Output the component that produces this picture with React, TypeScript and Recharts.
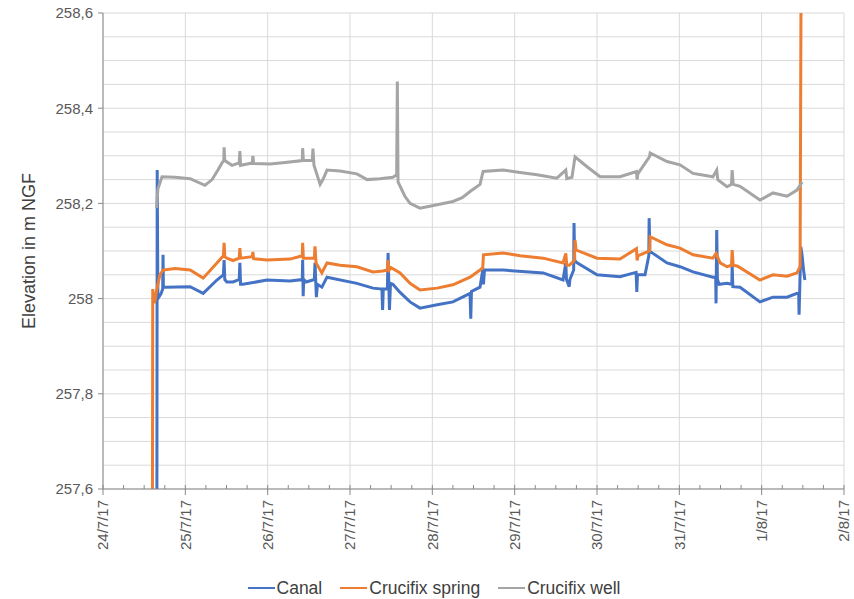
import React from 'react';
import {
	LineChart,
	Line,
	XAxis,
	YAxis,
	CartesianGrid,
	Legend,
} from 'recharts';

// x values are hours since 24/7/17 00:00
const dateLabels = [
	'24/7/17',
	'25/7/17',
	'26/7/17',
	'27/7/17',
	'28/7/17',
	'29/7/17',
	'30/7/17',
	'31/7/17',
	'1/8/17',
	'2/8/17',
];
const xTicks = Array.from({ length: 37 }, (_, i) => i * 6);
const dayValues = dateLabels.map((_, i) => i * 24);

const yTicks = [257.6, 257.8, 258, 258.2, 258.4, 258.6];
const yGrid = [
	257.6, 257.65, 257.7, 257.75, 257.8, 257.85, 257.9, 257.95, 258, 258.05,
	258.1, 258.15, 258.2, 258.25, 258.3, 258.35, 258.4, 258.45, 258.5, 258.55,
	258.6,
];

const canalHours = [
	15.7, 15.8, 16.0, 16.9, 17.4, 17.5, 17.6, 18.1, 25.4, 29.2, 33.2, 35.1, 35.3,
	35.5, 36.1, 37.9, 39.7, 39.9, 40.1, 40.8, 47.8, 54.5, 58.1, 58.2, 58.35, 58.5,
	59.2, 61.6, 61.8, 62.2, 62.5, 63.8, 65.3, 74.0, 78.7, 81.3, 81.5, 81.7, 82.9,
	83.1, 83.5, 83.8, 84.5, 86.6, 89.5, 92.4, 97.4, 102.0, 107.0, 107.2, 107.4,
	109.9, 110.7, 110.9, 111.2, 116.6, 128.3, 134.1, 134.9, 135.1, 135.9, 136.1,
	137.2, 137.3, 137.5, 138.2, 144.0, 150.7, 155.4, 155.6, 155.8, 158.0, 159.1,
	159.2, 159.4, 160.1, 164.4, 168.2, 172.0, 177.8, 178.6, 178.7, 178.9, 179.1,
	179.6, 181.9, 183.3, 183.4, 183.6, 185.7, 191.5, 195.3, 199.4, 202.3, 202.8,
	202.9, 203.1, 203.4, 203.8, 204.2, 204.6,
];
const canalLevel = [
	257.5, 258.27, 258.0, 258.01, 258.02, 258.092, 258.024, 258.024, 258.025,
	258.011, 258.039, 258.05, 258.081, 258.04, 258.035, 258.035, 258.04, 258.075,
	258.03, 258.03, 258.039, 258.037, 258.04, 258.081, 258.005, 258.04, 258.035,
	258.04, 258.075, 258.003, 258.03, 258.024, 258.045, 258.032, 258.022, 258.02,
	257.976, 258.02, 258.02, 258.096, 257.976, 258.032, 258.03, 258.013, 257.993,
	257.98, 257.987, 257.993, 258.011, 257.958, 258.015, 258.024, 258.06, 258.03,
	258.06, 258.06, 258.054, 258.039, 258.075, 258.04, 258.025, 258.04, 258.06,
	258.159, 258.08, 258.075, 258.05, 258.046, 258.055, 258.014, 258.05, 258.05,
	258.09, 258.169, 258.1, 258.096, 258.075, 258.067, 258.056, 258.045, 258.045,
	257.99, 258.144, 258.04, 258.03, 258.032, 258.03, 258.07, 258.025, 258.024,
	257.993, 258.003, 258.003, 258.011, 258.01, 257.966, 258.02, 258.109, 258.09,
	258.06, 258.039,
];

const springHours = [
	14.4, 14.5, 15.0, 15.7, 16.6, 17.5, 21.0, 25.4, 29.2, 33.2, 35.1, 35.3, 35.5,
	36.1, 37.9, 39.7, 39.9, 40.1, 43.5, 43.7, 43.9, 47.8, 54.5, 58.1, 58.2, 58.4,
	59.2, 61.6, 61.8, 62.1, 63.8, 65.3, 69.1, 74.0, 78.7, 81.6, 82.9, 83.1, 83.4,
	84.0, 86.6, 89.5, 92.4, 97.4, 102.0, 107.0, 109.9, 110.7, 110.9, 116.6,
	121.6, 128.3, 134.1, 134.9, 135.2, 135.9, 137.4, 137.6, 137.9, 144.0, 150.7,
	155.5, 155.7, 155.9, 159.3, 159.5, 164.4, 168.2, 172.0, 177.8, 178.7, 179.9,
	181.9, 183.2, 183.4, 183.7, 185.0, 191.5, 195.3, 199.4, 202.3, 203.2, 203.5,
];
const springLevel = [
	257.5, 258.02, 257.99, 258.02, 258.05, 258.06, 258.063, 258.06, 258.043,
	258.075, 258.09, 258.117, 258.088, 258.085, 258.08, 258.085, 258.106,
	258.085, 258.088, 258.098, 258.084, 258.081, 258.083, 258.09, 258.117,
	258.085, 258.085, 258.085, 258.11, 258.075, 258.054, 258.075, 258.07,
	258.067, 258.056, 258.058, 258.06, 258.081, 258.06, 258.065, 258.054,
	258.032, 258.018, 258.022, 258.029, 258.045, 258.06, 258.065, 258.092,
	258.096, 258.09, 258.085, 258.075, 258.095, 258.07, 258.07, 258.08, 258.123,
	258.102, 258.085, 258.083, 258.105, 258.08, 258.09, 258.1, 258.13, 258.113,
	258.106, 258.092, 258.085, 258.095, 258.075, 258.067, 258.07, 258.102,
	258.07, 258.068, 258.039, 258.05, 258.047, 258.054, 258.067, 258.7,
];

const wellHours = [
	15.6, 16.0, 17.2, 21.0, 25.4, 29.7, 31.8, 33.5, 34.7, 35.2, 35.3, 35.5, 37.6,
	39.7, 39.9, 40.1, 43.5, 43.7, 43.9, 48.7, 53.1, 58.1, 58.2, 58.4, 61.0, 61.2,
	61.5, 62.4, 63.3, 64.1, 65.3, 69.1, 74.0, 77.0, 80.7, 84.5, 85.6, 85.8, 86.0,
	88.0, 89.5, 92.4, 97.4, 102.0, 104.7, 107.0, 109.9, 110.8, 116.6, 121.6,
	126.5, 132.3, 134.9, 135.2, 136.7, 137.6, 141.1, 144.9, 150.7, 155.5, 155.7,
	155.9, 159.3, 159.5, 164.4, 168.2, 172.0, 177.8, 178.9, 179.2, 181.9, 183.2,
	183.4, 183.7, 185.7, 191.5, 195.3, 199.4, 202.3, 203.8,
];
const wellLevel = [
	258.19, 258.23, 258.256, 258.255, 258.252, 258.238, 258.25, 258.27, 258.285,
	258.29, 258.318, 258.29, 258.28, 258.285, 258.31, 258.28, 258.285, 258.3,
	258.284, 258.283, 258.286, 258.29, 258.316, 258.29, 258.29, 258.315, 258.28,
	258.26, 258.24, 258.25, 258.27, 258.268, 258.262, 258.25, 258.252, 258.255,
	258.26, 258.456, 258.245, 258.215, 258.2, 258.19, 258.197, 258.204, 258.212,
	258.225, 258.24, 258.267, 258.27, 258.265, 258.26, 258.253, 258.27, 258.252,
	258.255, 258.298, 258.277, 258.256, 258.256, 258.267, 258.25, 258.262,
	258.298, 258.306, 258.288, 258.281, 258.263, 258.256, 258.27, 258.25,
	258.235, 258.24, 258.27, 258.24, 258.236, 258.207, 258.222, 258.215,
	258.228, 258.245,
];

const toPoints = (hours: number[], levels: number[]) =>
	hours.map((h, i) => ({ h, v: levels[i] }));

const series = [
	{ name: 'Canal', color: '#4472C4', data: toPoints(canalHours, canalLevel) },
	{ name: 'Crucifix spring', color: '#ED7D31', data: toPoints(springHours, springLevel) },
	{ name: 'Crucifix well', color: '#A5A5A5', data: toPoints(wellHours, wellLevel) },
];

const FONT = '"Liberation Sans", Arial, sans-serif';
const TEXT = '#595959';
const AXIS = '#898989';

const formatY = (v: number) => {
	const s = v.toFixed(1);
	return s.endsWith('.0') ? s.slice(0, -2) : s.replace('.', ',');
};

const DateTick = ({ x, y, payload }: any) => {
	const major = payload.value % 24 === 0;
	return (
		<g>
			<line x1={x} x2={x} y1={y - 4} y2={major ? y + 6 : y} stroke={AXIS} />
			{major && (
				<text
					x={x}
					y={y + 11}
					transform={`rotate(-90, ${x}, ${y + 11})`}
					textAnchor='end'
					dy='0.35em'
					fontSize={15}
					fontFamily={FONT}
					fill={TEXT}
				>
					{dateLabels[payload.value / 24]}
				</text>
			)}
		</g>
	);
};

const LegendRow = () => (
	<div
		style={{
			height: 30,
			display: 'flex',
			justifyContent: 'center',
			alignItems: 'center',
			paddingTop: 8,
			paddingLeft: 24,
			boxSizing: 'border-box',
			fontFamily: FONT,
			fontSize: 17.5,
			color: '#404040',
		}}
	>
		{series.map((s) => (
			<span
				key={s.name}
				style={{ display: 'flex', alignItems: 'center', margin: '0 9px' }}
			>
				<span
					style={{
						display: 'inline-block',
						width: 27,
						height: 2,
						background: s.color,
						marginRight: 2,
					}}
				/>
				{s.name}
			</span>
		))}
	</div>
);

export default function App() {
	return (
		<div style={{ position: 'absolute', left: 0, top: 0, background: '#fff' }}>
			<LineChart
				width={854}
				height={599}
				margin={{ top: 13, right: 10, left: 0, bottom: 0 }}
			>
				<CartesianGrid
					stroke='#d9d9d9'
					verticalValues={dayValues}
					horizontalValues={yGrid}
				/>
				<XAxis
					dataKey='h'
					type='number'
					domain={[0, 216]}
					ticks={xTicks}
					interval={0}
					allowDataOverflow
					height={80}
					tickLine={false}
					tickSize={0}
					tickMargin={0}
					axisLine={{ stroke: AXIS }}
					tick={<DateTick />}
				/>
				<YAxis
					type='number'
					domain={[257.6, 258.6]}
					ticks={yTicks}
					interval={0}
					allowDataOverflow
					width={103}
					tickSize={5}
					tickMargin={5}
					tickLine={{ stroke: AXIS }}
					axisLine={{ stroke: AXIS }}
					tickFormatter={formatY}
					tick={{ fontSize: 15, fontFamily: FONT, fill: TEXT }}
					label={{
						value: 'Elevation in m NGF',
						angle: -90,
						position: 'insideLeft',
						offset: 29,
						style: { textAnchor: 'middle', fontSize: 18, fontFamily: FONT, fill: '#404040' },
					}}
				/>
				<Legend verticalAlign='bottom' content={<LegendRow />} />
				{series.map((s) => (
					<Line
						key={s.name}
						data={s.data}
						dataKey='v'
						name={s.name}
						type='linear'
						stroke={s.color}
						strokeWidth={3}
						dot={false}
						isAnimationActive={false}
					/>
				))}
			</LineChart>
		</div>
	);
}
